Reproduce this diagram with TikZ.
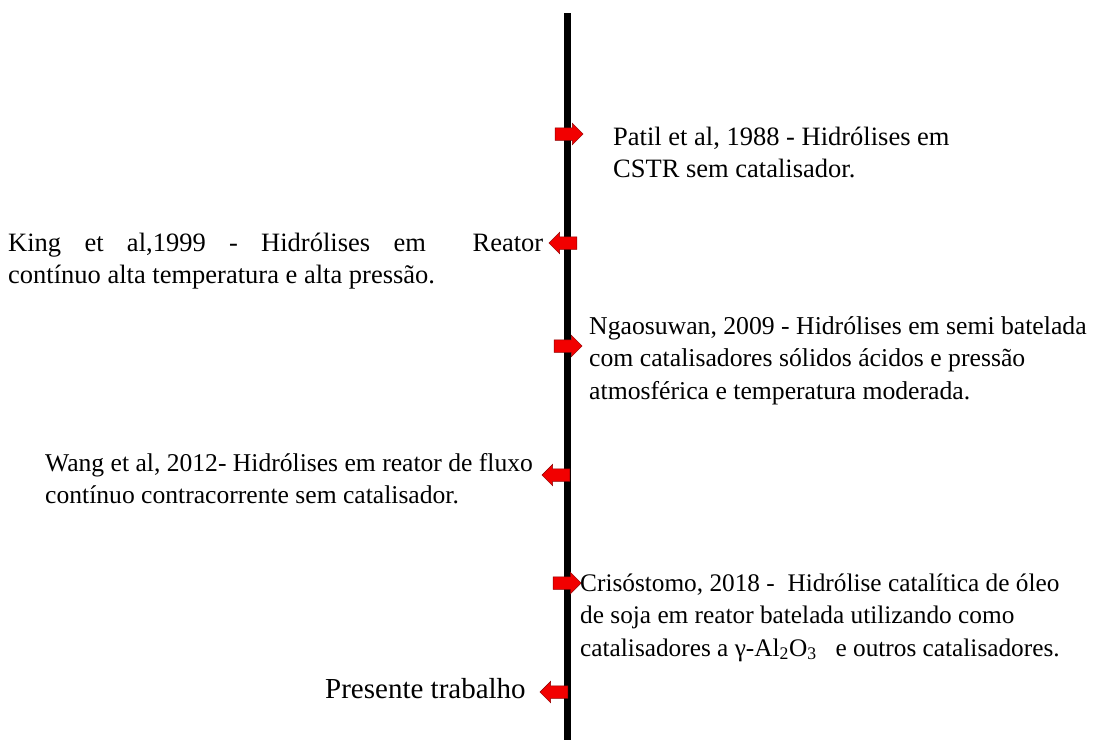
\documentclass[tikz,border=0pt]{standalone}
\usepackage{fontspec}
\setmainfont{Liberation Serif}
\usetikzlibrary{shapes.arrows}
\newcommand{\tlbox}[3]{\parbox[t]{#1pt}{\fontsize{#2}{32.5}\selectfont #3}}
\tikzset{
  evtarrow/.style={single arrow, fill=red!95!black, draw=red!55!black, line width=0.5pt,
    text height=6pt, text depth=6pt, text width=0pt, inner sep=0pt,
    minimum height=28pt, single arrow head extend=4.5pt,
    single arrow head indent=0pt},
  evttext/.style={anchor=base west, inner sep=0pt, text=black},
  timeline/.style={line width=7pt, black}
}
\begin{document}
\begin{tikzpicture}[x=1pt,y=-1pt]
\useasboundingbox[fill=white] (0,0) rectangle (1107,740);
% timeline
\coordinate (top) at (567,13);
\coordinate (bot) at (567,740);
\draw[timeline] (top) -- (bot);
% arrows
\node[evtarrow, shape border rotate=0]   (a1) at (566,134) {};
\node[evtarrow, shape border rotate=180] (a2) at (566,243) {};
\node[evtarrow, shape border rotate=0]   (a3) at (565,346) {};
\node[evtarrow, shape border rotate=180] (a4) at (559,475) {};
\node[evtarrow, shape border rotate=0]   (a5) at (564,583) {};
\node[evtarrow, shape border rotate=180] (a6) at (557,692) {};
% texts
\node[evttext] (t1) at (613,145) {\tlbox{480}{26.5}{\raggedright Patil et al, 1988 - Hidrólises em\\CSTR sem catalisador.}};
\node[evttext] (t2) at (8,251) {\tlbox{535}{26.5}{King et al,1999 - Hidrólises em\ \ Reator\linebreak contínuo alta temperatura e alta pressão.}};
\node[evttext] (t3) at (589,334) {\tlbox{515}{25.7}{\raggedright Ngaosuwan, 2009 - Hidrólises em semi batelada\\com catalisadores sólidos ácidos e pressão\\atmosférica e temperatura moderada.}};
\node[evttext] (t4) at (45,471) {\tlbox{520}{25.6}{\raggedright Wang et al, 2012- Hidrólises em reator de fluxo\\contínuo contracorrente sem catalisador.}};
\node[evttext] (t5) at (580,591) {\tlbox{525}{25.3}{\raggedright Crisóstomo, 2018 -\ \ Hidrólise catalítica de óleo\\de soja em reator batelada utilizando como\\catalisadores a γ-Al\textsubscript{2}O\textsubscript{3}\ \ \ e outros catalisadores.}};
\node[evttext, font=\fontsize{29}{34}\selectfont] (t6) at (325,698) {Presente trabalho};
\end{tikzpicture}
\end{document}
